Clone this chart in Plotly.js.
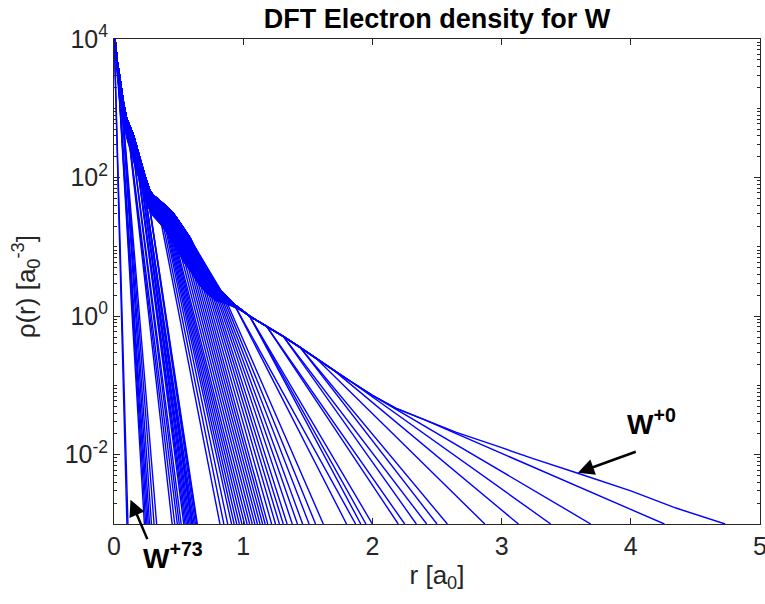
<!DOCTYPE html>
<html><head><meta charset="utf-8">
<script src="https://cdn.plot.ly/plotly-3.0.1.min.js"></script>
<style>html,body{margin:0;padding:0;background:#fff}</style>
</head><body>
<div id="chart" style="width:765px;height:604px"></div>
<script>
// Envelope (neutral W, W+0) radial electron density
const envR = [0, 0.010, 0.025, 0.046, 0.070, 0.098, 0.125, 0.150, 0.175, 0.200,
  0.240, 0.279, 0.310, 0.350, 0.410, 0.450, 0.485, 0.540, 0.588, 0.640,
  0.690, 0.750, 0.820, 0.930, 1.050, 1.180, 1.310, 1.440, 1.570, 1.700,
  1.830, 2.000, 2.180, 2.400, 2.650, 2.955, 3.250, 3.590, 4.000, 4.350, 4.730];
const envRho = [1.4e4, 8.3e3, 4.8e3, 2.7e3, 1.3e3, 7.1e2, 5.2e2, 4.1e2, 2.8e2, 1.9e2,
  1.05e2, 63, 54, 47, 38, 32, 26, 18.6, 13.5, 8.5,
  5.9, 3.8, 2.4, 1.48, 1.0, 0.72, 0.51, 0.355, 0.24, 0.166,
  0.115, 0.072, 0.047, 0.032, 0.021, 0.0135, 0.0087, 0.0054, 0.0030, 0.0017, 0.0010];

// Lower edge of the core region where the curves overlap into a solid band
const bandLowR = [0, 0.015, 0.04, 0.07, 0.10, 0.14, 0.18, 0.22, 0.26, 0.30, 0.34,
  0.37, 0.42, 0.48, 0.54, 0.60, 0.66, 0.72, 0.79, 0.87, 0.96, 1.05];
const bandLowRho = [1.4e4, 4.5e3, 1.4e3, 630, 355, 200, 112, 63, 38, 28, 23,
  20, 14.8, 9.5, 6.0, 4.2, 2.8, 2.1, 1.66, 1.5, 1.26, 1.0];

// Per ion W+q (q = 0..73): radius where the curve reaches 1e-3
const ionEndR = [4.73,
  4.26, 3.69, 3.38, 3.13, 2.87, 2.58, 2.50, 2.42, 2.34, 2.25, 2.20, 2.00, 1.95, 1.91, 1.87, 1.80,
  1.62, 1.56, 1.51, 1.46, 1.42, 1.38, 1.34, 1.31, 1.28, 1.25, 1.22, 1.19, 1.17, 1.15, 1.13,
  1.11, 1.09, 1.07, 1.05, 1.03, 1.01, 0.99, 0.97, 0.95, 0.93, 0.91, 0.88, 0.85, 0.82,
  0.645, 0.64, 0.63, 0.62, 0.61, 0.605, 0.60, 0.59, 0.58, 0.57, 0.56, 0.55, 0.54,
  0.52, 0.505, 0.49, 0.47, 0.45,
  0.33, 0.31, 0.29, 0.275, 0.265, 0.255, 0.245, 0.235,
  0.108, 0.100];
// Envelope node where each ion's curve leaves the W+0 curve
const ionDepart = [40,
  33, 31, 30, 29, 28, 27, 27, 26, 26, 25, 25, 24, 24, 24, 23, 23,
  17, 17, 17, 16, 16, 16, 15, 15, 15, 15, 14, 14, 14, 14,
  13, 13, 13, 13, 13, 12, 12, 12, 12, 12, 11, 11, 11, 11, 11,
  10, 10, 10, 9, 9, 9, 9, 8, 8, 8, 7, 7, 7,
  6, 6, 5, 5, 5,
  3, 3, 3, 3, 2, 2, 2, 2,
  0, 0];
// Point where the N-shell ions (W+17..W+45) come out of the dense band (null: none)
const ionKneeR = [null,
  null, null, null, null, null, null, null, null, null, null, null, null, null, null, null, null,
  0.85, 0.83, 0.81, 0.79, 0.77, 0.75, 0.73, 0.71, 0.69, 0.67, 0.65, 0.63, 0.61, 0.59, 0.57,
  0.55, 0.53, 0.51, 0.49, 0.47, 0.46, 0.45, 0.44, 0.43, 0.42, 0.41, 0.40, 0.385, 0.37,
  null, null, null, null, null, null, null, null, null, null, null, null, null,
  null, null, null, null, null,
  null, null, null, null, null, null, null, null,
  null, null];
const ionKneeRho = [null,
  null, null, null, null, null, null, null, null, null, null, null, null, null, null, null, null,
  2.0, 2.2, 2.4, 2.7, 3.0, 3.4, 3.8, 4.3, 4.8, 5.4, 6.0, 6.8, 7.4, 8.1, 8.9,
  9.8, 10.7, 11.5, 12.3, 13.2, 13.8, 14.5, 15.1, 15.8, 16.6, 17.4, 18.2, 19.1, 20,
  null, null, null, null, null, null, null, null, null, null, null, null, null,
  null, null, null, null, null,
  null, null, null, null, null, null, null, null,
  null, null];
const rhoFloor = 1e-3;

const xTickVals = [0, 1, 2, 3, 4, 5];
const yTickVals = [1e-2, 1, 1e2, 1e4];
const yTickText = ['10<sup>-2</sup>', '10<sup>0</sup>', '10<sup>2</sup>', '10<sup>4</sup>'];

const BLUE = '#0000ff';
// solid core band: W+0 envelope on top, band lower edge underneath
const nTop = envR.indexOf(1.05);
const band = {
  type: 'scatter', mode: 'lines', fill: 'toself', fillcolor: BLUE,
  x: envR.slice(0, nTop + 1).concat(bandLowR.slice().reverse()),
  y: envRho.slice(0, nTop + 1).concat(bandLowRho.slice().reverse()),
  line: {color: BLUE, width: 1}, showlegend: false, hoverinfo: 'skip'
};

const traces = ionEndR.map((re, q) => {
  const d = ionDepart[q];
  const x = envR.slice(0, d + 1);
  const y = envRho.slice(0, d + 1);
  if (ionKneeR[q] !== null) { x.push(ionKneeR[q]); y.push(ionKneeRho[q]); }
  if (re !== envR[d]) { x.push(re); y.push(rhoFloor); }
  return {type: 'scatter', mode: 'lines', x: x, y: y, name: 'W+' + q,
    line: {color: BLUE, width: 1.4}, showlegend: false, hoverinfo: 'skip'};
});

const FONT = 'Liberation Sans, Arial, Helvetica, sans-serif';
const axCol = '#262626';
const layout = {
  width: 765, height: 604,
  margin: {l: 114, r: 5, t: 39, b: 80},
  paper_bgcolor: '#fff', plot_bgcolor: '#fff',
  font: {family: FONT, color: axCol},
  title: {text: '<b>DFT Electron density for W</b>', font: {family: FONT, size: 27, color: '#000'},
    x: 0.5, xref: 'paper', xanchor: 'center', y: 1 - 19 / 604, yref: 'container', yanchor: 'middle'},
  xaxis: {range: [0, 5], tickmode: 'array', tickvals: xTickVals, ticks: 'inside', ticklen: 6,
    tickcolor: axCol, showline: true, linecolor: axCol, linewidth: 1, mirror: 'ticks',
    showgrid: false, zeroline: false, ticklabeloverflow: 'allow',
    tickfont: {family: FONT, size: 25, color: axCol},
    title: {text: 'r [a<sub>0</sub>]', font: {family: FONT, size: 26, color: axCol}, standoff: 6}},
  yaxis: {type: 'log', range: [-3, 4], tickmode: 'array', tickvals: yTickVals, ticktext: yTickText,
    ticks: 'inside', ticklen: 6, tickcolor: axCol, showline: true, linecolor: axCol, linewidth: 1,
    mirror: 'ticks', showgrid: false, zeroline: false, ticklabeloverflow: 'allow',
    tickfont: {family: FONT, size: 25, color: axCol},
    minor: {dtick: 'D1', ticks: 'inside', ticklen: 3, tickcolor: axCol, showgrid: false}},
  annotations: [
    {x: -0.137, y: 0.489, xref: 'paper', yref: 'paper', textangle: -90, xanchor: 'center', yanchor: 'middle',
      text: 'ρ(r) [a<sub>0</sub><sup>-3</sup>]', showarrow: false, font: {family: FONT, size: 26, color: axCol}},
    {x: 4.16, y: -1.53, xref: 'x', yref: 'y', xanchor: 'center', yanchor: 'middle',
      text: '<b>W<sup>+0</sup></b>', showarrow: false, font: {family: FONT, size: 28, color: '#000'}},
    {x: 3.59, y: -2.26, xref: 'x', yref: 'y', ax: 4.05, ay: -1.95, axref: 'x', ayref: 'y',
      text: '', showarrow: true, arrowhead: 2, arrowsize: 1.3, arrowwidth: 2.5, arrowcolor: '#000'},
    {x: (173 - 114) / 646, y: (524 - 556) / 485, xref: 'paper', yref: 'paper', xanchor: 'center', yanchor: 'middle',
      text: '<b>W<sup>+73</sup></b>', showarrow: false, font: {family: FONT, size: 28, color: '#000'}},
    {x: 0.128, y: -2.65, xref: 'x', yref: 'y', ax: 0.263, ay: -3.24, axref: 'x', ayref: 'y',
      text: '', showarrow: true, arrowhead: 2, arrowsize: 1.3, arrowwidth: 2.5, arrowcolor: '#000'}
  ]
};
Plotly.newPlot('chart', [band].concat(traces), layout, {displayModeBar: false, staticPlot: true});
</script>
</body></html>
